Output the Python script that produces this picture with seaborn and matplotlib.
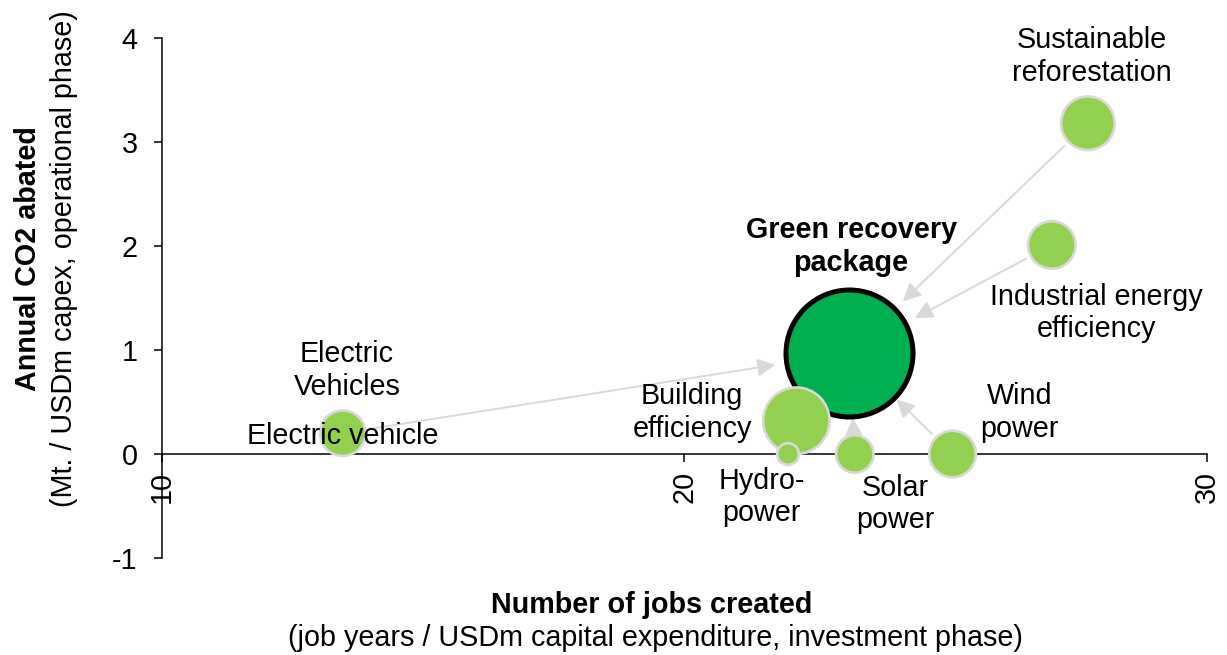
import numpy as np
import pandas as pd
import matplotlib
matplotlib.use("Agg")
import matplotlib.pyplot as plt
import seaborn as sns

# ---- data -------------------------------------------------------------
measures = ["Electric vehicle", "Building efficiency", "Hydro-power", "Solar power",
            "Wind power", "Industrial energy efficiency", "Sustainable reforestation"]
jobs = [13.46, 22.14, 21.98, 23.26, 25.13, 27.03, 27.72]
co2 = [0.20, 0.32, 0.0, 0.0, 0.0, 2.01, 3.18]
bubble = [12.8, 27.4, 2.9, 8.7, 13.4, 14.0, 17.8]

package_name = "Green recovery package"
package_jobs = 23.15
package_co2 = 0.97
package_bubble = 100.0

x_ticks = [10, 20, 30]
y_ticks = [-1, 0, 1, 2, 3, 4]

# ---- styling ------------------------------------------------------------
sns.set_theme(style="white")
plt.rcParams["font.family"] = ["Liberation Sans", "DejaVu Sans"]
plt.rcParams["axes.unicode_minus"] = False
plt.rcParams["text.color"] = "black"

FS = 20.7
LS = 1.22
LIGHT_GREEN = "#92D050"
DARK_GREEN = "#00B050"
EDGE_GREY = "#D9D9D9"
MAX_AREA = 8360  # marker area (pt^2) for a bubble value of 100

fig = plt.figure(figsize=(12.27, 6.55), dpi=100)
ax = fig.add_axes([0.1320, 0.1481, 0.8517, 0.7939])

df = pd.DataFrame({"measure": measures, "jobs": jobs, "co2": co2, "bubble": bubble})
pkg = pd.DataFrame({"measure": [package_name], "jobs": [package_jobs],
                    "co2": [package_co2], "bubble": [package_bubble]})

sns.scatterplot(data=df, x="jobs", y="co2", size="bubble", sizes=(0, MAX_AREA),
                size_norm=(0, 100), color=LIGHT_GREEN, edgecolor=EDGE_GREY,
                linewidth=1.9, alpha=1, legend=False, zorder=4, clip_on=False, ax=ax)
sns.scatterplot(data=pkg, x="jobs", y="co2", size="bubble", sizes=(0, MAX_AREA),
                size_norm=(0, 100), color=DARK_GREEN, edgecolor="black",
                linewidth=3.6, alpha=1, legend=False, zorder=3, clip_on=False, ax=ax)

# ---- connector arrows towards the package -------------------------------
def radius_pt(v):
    return np.sqrt(v / 100 * MAX_AREA) / 2

end_gap = {"Electric vehicle": 8, "Building efficiency": 2, "Hydro-power": 2,
           "Solar power": 1, "Wind power": 2,
           "Industrial energy efficiency": 8, "Sustainable reforestation": 8}
for m, x, y, b in zip(measures, jobs, co2, bubble):
    ax.annotate("", xy=(package_jobs, package_co2), xytext=(x, y),
                arrowprops=dict(arrowstyle="-|>,head_length=0.6,head_width=0.3",
                                mutation_scale=18, color=EDGE_GREY, lw=1.4,
                                shrinkA=radius_pt(b) + 4,
                                shrinkB=radius_pt(package_bubble) + end_gap[m]),
                zorder=2, annotation_clip=False)

# ---- labels (offsets in points from bubble centre) ----------------------
label_text = {
    "Electric vehicle": "Electric\nVehicles",
    "Building efficiency": "Building\nefficiency",
    "Hydro-power": "Hydro-\npower",
    "Solar power": "Solar\npower",
    "Wind power": "Wind\npower",
    "Industrial energy efficiency": "Industrial energy\nefficiency",
    "Sustainable reforestation": "Sustainable\nreforestation",
}
label_offset = {
    "Electric vehicle": (3, 45),
    "Building efficiency": (-75, 6),
    "Hydro-power": (-19, -31),
    "Solar power": (29, -36),
    "Wind power": (48, 30),
    "Industrial energy efficiency": (32, -49),
    "Sustainable reforestation": (3, 48),
}
for m, x, y in zip(measures, jobs, co2):
    ax.annotate(label_text[m], xy=(x, y), xytext=label_offset[m],
                textcoords="offset points", ha="center", va="center",
                fontsize=FS, color="black", linespacing=LS, zorder=6,
                annotation_clip=False)

# series name sitting on its own bubble
ax.annotate(measures[0], xy=(jobs[0], co2[0]), xytext=(0, 0),
            textcoords="offset points", ha="center", va="center_baseline",
            fontsize=FS, color="black", zorder=6)

ax.annotate("Green recovery\npackage", xy=(package_jobs, package_co2),
            xytext=(1.5, 77), textcoords="offset points", ha="center", va="center",
            fontsize=FS, fontweight="bold", color="black", linespacing=LS, zorder=6)

# ---- axes ----------------------------------------------------------------
ax.set_xlim(10, 30)
ax.set_ylim(-1, 4)
ax.spines["top"].set_visible(False)
ax.spines["right"].set_visible(False)
ax.spines["bottom"].set_position(("data", 0))
for s in ("left", "bottom"):
    ax.spines[s].set_color("black")
    ax.spines[s].set_linewidth(1.1)
    ax.spines[s].set_zorder(2.5)

ax.set_xticks(x_ticks)
ax.set_xticklabels([str(t) for t in x_ticks], rotation=90, fontsize=FS)
ax.set_yticks(y_ticks)
ax.set_yticklabels([str(t) for t in y_ticks], fontsize=FS)
ax.tick_params(axis="both", direction="out", length=6, width=1.1, colors="black",
               bottom=True, left=True)
ax.tick_params(axis="x", pad=6)
ax.tick_params(axis="y", pad=11.5)
ax.grid(False)
ax.set_xlabel("")
ax.set_ylabel("")

fig.text(0.0228, 0.605, "Annual CO2 abated", rotation=90, ha="center", va="center",
         fontsize=FS, fontweight="bold")
fig.text(0.0520, 0.605, "(Mt. / USDm capex, operational phase)", rotation=90,
         ha="center", va="center", fontsize=FS)
fig.text(0.531, 0.076, "Number of jobs created", ha="center", va="center",
         fontsize=FS, fontweight="bold")
fig.text(0.534, 0.026, "(job years / USDm capital expenditure, investment phase)",
         ha="center", va="center", fontsize=FS)

fig.savefig("out.png", dpi=100)
